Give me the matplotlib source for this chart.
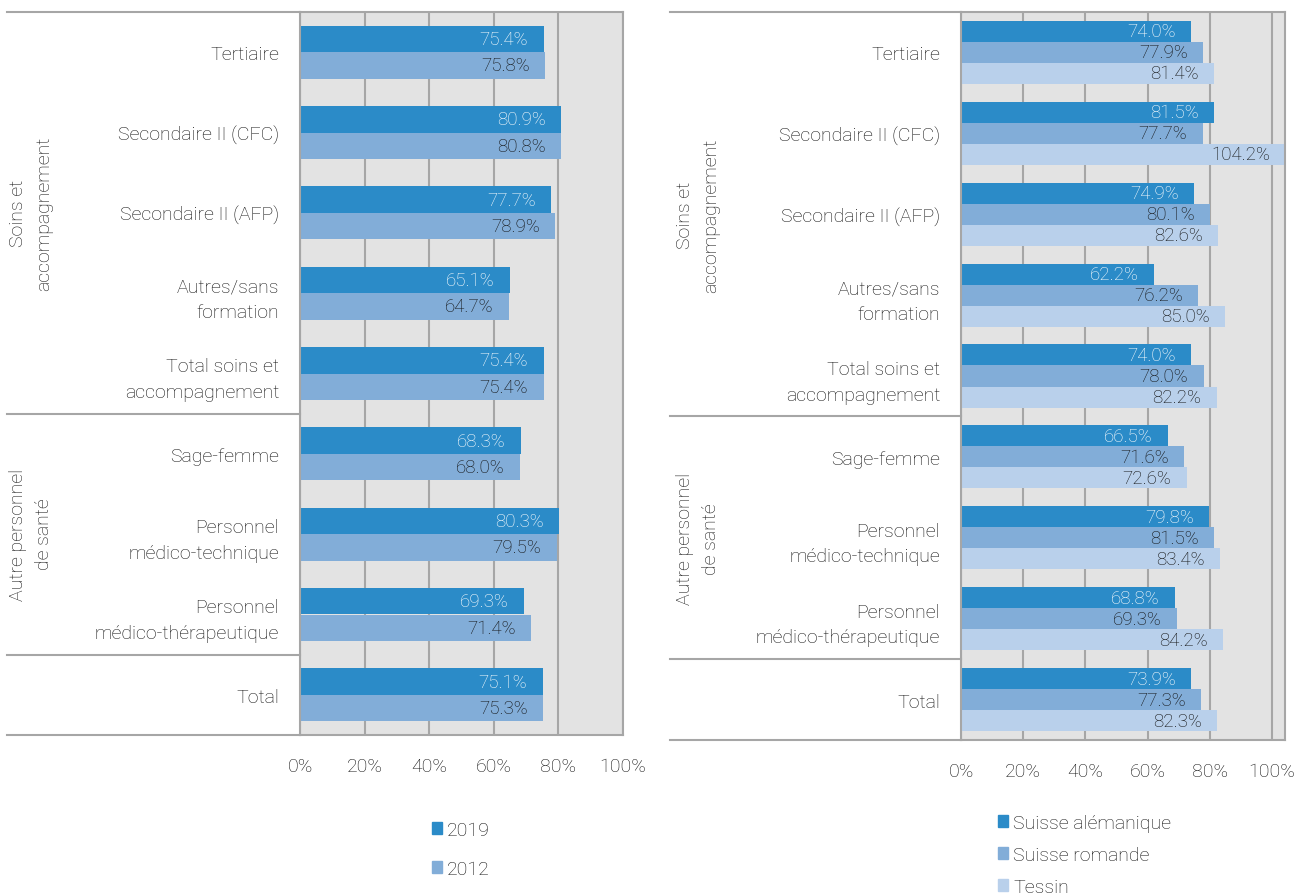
import matplotlib.pyplot as plt
from matplotlib.patches import Patch
from matplotlib.lines import Line2D
from matplotlib.transforms import blended_transform_factory
import numpy as np

plt.rcParams['font.family'] = ['Roboto', 'DejaVu Sans']
plt.rcParams['font.weight'] = 'light'

categories = ["Tertiaire", "Secondaire II (CFC)", "Secondaire II (AFP)",
              "Autres/sans\nformation", "Total soins et\naccompagnement",
              "Sage-femme", "Personnel\nmédico-technique",
              "Personnel\nmédico-thérapeutique", "Total"]
groups = ["Soins et\naccompagnement", "Autre personnel\nde santé"]

# left panel: 2019 vs 2012
y2019 = [75.4, 80.9, 77.7, 65.1, 75.4, 68.3, 80.3, 69.3, 75.1]
y2012 = [75.8, 80.8, 78.9, 64.7, 75.4, 68.0, 79.5, 71.4, 75.3]

# right panel: by language region
alemanique = [74.0, 81.5, 74.9, 62.2, 74.0, 66.5, 79.8, 68.8, 73.9]
romande = [77.9, 77.7, 80.1, 76.2, 78.0, 71.6, 81.5, 69.3, 77.3]
tessin = [81.4, 104.2, 82.6, 85.0, 82.2, 72.6, 83.4, 84.2, 82.3]

C1, C2, C3 = '#2B8BC8', '#82ADD8', '#B9D0EB'
GRID = '#A6A6A6'
TXT = '#111111'
FS = 14
FS_BAR = 13.5

W, H = 1298, 895
fig = plt.figure(figsize=(W / 100, H / 100), dpi=100)


def px_axes(x0, x1, y0, y1):
    return fig.add_axes([x0 / W, 1 - y1 / H, (x1 - x0) / W, (y1 - y0) / H])


def style(ax, xmax, left_px, ax_x0, ax_x1):
    ax.set_facecolor('#E3E3E3')
    ax.set_xlim(0, xmax)
    ax.set_ylim(len(categories) - 0.5, -0.5)
    ax.set_xticks(np.arange(0, 101, 20))
    ax.set_xticklabels([f"{t}%" for t in range(0, 101, 20)])
    ax.set_yticks(range(len(categories)))
    ax.set_yticklabels(categories, linespacing=1.55)
    ax.tick_params(length=0, labelsize=FS, colors=TXT)
    ax.tick_params(axis='x', pad=16)
    ax.tick_params(axis='y', pad=15)
    ax.grid(axis='x', color=GRID, lw=1.5)
    ax.set_axisbelow(True)
    for s in ax.spines.values():
        s.set_color(GRID)
        s.set_linewidth(1.5)
    # frame lines of the label area and group separators
    xl = (left_px - ax_x0) / (ax_x1 - ax_x0)
    for yy in [0, 1]:
        ax.add_line(Line2D([xl, 0], [yy, yy], transform=ax.transAxes,
                           color=GRID, lw=1.5, clip_on=False))
    tr = blended_transform_factory(ax.transAxes, ax.transData)
    for yv in [4.5, 7.5]:
        ax.add_line(Line2D([xl, 0], [yv, yv], transform=tr,
                           color=GRID, lw=1.5, clip_on=False))


def label(ax, vals, ys, color):
    for v, y in zip(vals, ys):
        ax.annotate(f"{v:.1f}%", (v, y), xytext=(-11, 0), textcoords='offset points',
                    ha='right', va='center', fontsize=FS_BAR, color=color)


pos = np.arange(len(categories))

# left chart
ax1 = px_axes(300, 623, 13, 736)
h = 0.33
ax1.barh(pos - h / 2, y2019, height=h, color=C1, label='2019')
ax1.barh(pos + h / 2, y2012, height=h, color=C2, label='2012')
label(ax1, y2019, pos - h / 2, 'white')
label(ax1, y2012, pos + h / 2, TXT)
style(ax1, 100, 7, 300, 623)

# right chart
xmax = 104.3
x_right = 961 + 311 * xmax / 100
ax2 = px_axes(961, x_right, 13, 741)
h = 0.26
ax2.barh(pos - h, alemanique, height=h, color=C1, label='Suisse alémanique')
ax2.barh(pos, romande, height=h, color=C2, label='Suisse romande')
ax2.barh(pos + h, tessin, height=h, color=C3, label='Tessin')
label(ax2, alemanique, pos - h, 'white')
label(ax2, romande, pos, TXT)
label(ax2, tessin, pos + h, TXT)
style(ax2, xmax, 670, 961, x_right)

# group labels
for gx, top, sep, bot in [(31, 13, 414, 655), (698, 13, 418, 660)]:
    for txt, a, b in [(groups[0], top, sep), (groups[1], sep, bot)]:
        fig.text(gx / W, 1 - (a + b) / 2 / H, txt, rotation=90,
                 ha='center', va='center', fontsize=FS, color=TXT,
                 linespacing=1.55, multialignment='center')

# legends
h1 = [Patch(color=C1), Patch(color=C2)]
fig.legend(h1, ['2019', '2012'], loc='upper left', bbox_to_anchor=(422 / W, 1 - 812 / H),
           frameon=False, fontsize=FS, handlelength=0.55, handleheight=0.55,
           handletextpad=0.25, labelspacing=1.1, borderpad=0, labelcolor=TXT)
h2 = [Patch(color=C1), Patch(color=C2), Patch(color=C3)]
fig.legend(h2, ['Suisse alémanique', 'Suisse romande', 'Tessin'], loc='upper left',
           bbox_to_anchor=(988 / W, 1 - 805 / H), frameon=False, fontsize=FS,
           handlelength=0.55, handleheight=0.55, handletextpad=0.25,
           labelspacing=0.72, borderpad=0, labelcolor=TXT)

fig.savefig('out.png', dpi=100)
